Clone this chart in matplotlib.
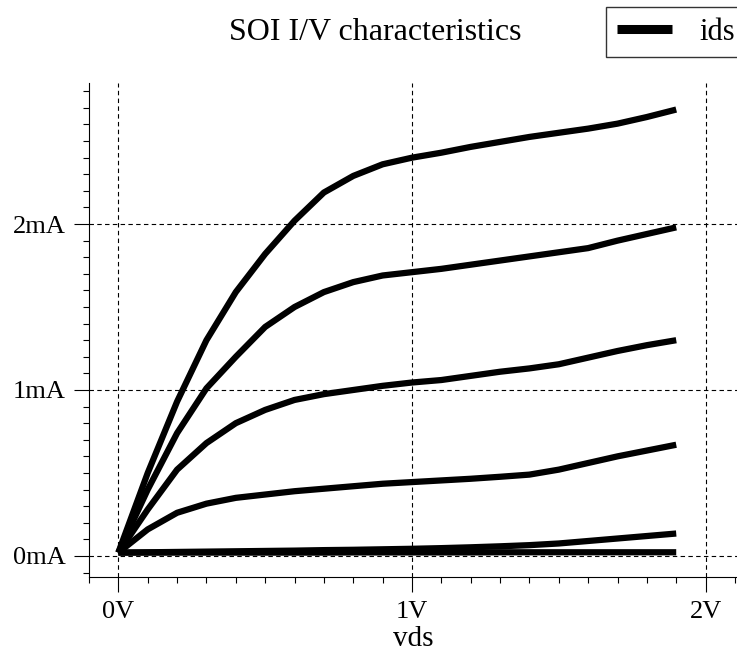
import matplotlib
matplotlib.use('Agg')
import matplotlib.pyplot as plt
from matplotlib.ticker import MultipleLocator

plt.rcParams['font.family'] = ['Liberation Serif', 'DejaVu Serif']

# drain voltage (V)
vds = [0.0, 0.1, 0.2, 0.3, 0.4, 0.5, 0.6, 0.7, 0.8, 0.9,
       1.0, 1.1, 1.2, 1.3, 1.4, 1.5, 1.6, 1.7, 1.8, 1.9]

# drain current (mA), one list per gate voltage
ids1 = [0.02, 0.50, 0.93, 1.30, 1.59, 1.82, 2.02, 2.19, 2.29, 2.36,
        2.40, 2.43, 2.465, 2.495, 2.525, 2.55, 2.575, 2.605, 2.645, 2.69]
ids2 = [0.02, 0.40, 0.74, 1.01, 1.20, 1.38, 1.50, 1.59, 1.65, 1.69,
        1.71, 1.73, 1.755, 1.78, 1.805, 1.83, 1.855, 1.90, 1.94, 1.98]
ids3 = [0.02, 0.28, 0.52, 0.68, 0.80, 0.88, 0.94, 0.975, 1.00, 1.025,
        1.045, 1.06, 1.085, 1.11, 1.13, 1.155, 1.195, 1.235, 1.27, 1.30]
ids4 = [0.02, 0.16, 0.26, 0.315, 0.35, 0.37, 0.39, 0.405, 0.42, 0.435,
        0.445, 0.455, 0.465, 0.477, 0.49, 0.52, 0.56, 0.60, 0.635, 0.67]
ids5 = [0.02, 0.022, 0.024, 0.026, 0.028, 0.03, 0.032, 0.035, 0.037, 0.04,
        0.043, 0.047, 0.052, 0.058, 0.065, 0.075, 0.09, 0.105, 0.12, 0.135]
ids6 = [0.02, 0.02, 0.02, 0.02, 0.02, 0.02, 0.02, 0.02, 0.021, 0.021,
        0.021, 0.021, 0.021, 0.022, 0.022, 0.022, 0.022, 0.022, 0.022, 0.022]
curves = [ids1, ids2, ids3, ids4, ids5, ids6]

x_ticks = [0, 1, 2]
x_labels = ['0V', '1V', '2V']
y_ticks = [0, 1, 2]
y_labels = ['0mA', '1mA', '2mA']

fig = plt.figure(figsize=(7.37, 6.55), dpi=100)
ax = fig.add_axes([89 / 737, 78 / 655, 648 / 737, 494 / 655])

for i, c in enumerate(curves):
    ax.plot(vds, c, color='black', lw=4.5, solid_capstyle='butt',
            solid_joinstyle='round', label='ids' if i == 0 else None)

ax.set_xlim(-0.1, 2.107)
ax.set_ylim(-0.127, 2.85)

ax.set_xticks(x_ticks)
ax.set_xticklabels(x_labels)
ax.set_yticks(y_ticks)
ax.set_yticklabels(y_labels)
ax.xaxis.set_minor_locator(MultipleLocator(0.1))
ax.yaxis.set_minor_locator(MultipleLocator(0.1))
ax.tick_params(which='major', direction='out', length=11, width=0.8,
               labelsize=19, pad=6)
ax.tick_params(which='minor', direction='out', length=4.5, width=0.8)

ax.grid(True, which='major', color='black', lw=0.8, linestyle=(0, (4, 3)))

for s in ['top', 'right']:
    ax.spines[s].set_visible(False)
for s in ['left', 'bottom']:
    ax.spines[s].set_linewidth(0.8)

ax.set_xlabel('vds', fontsize=21, labelpad=2.5)

fig.text(375 / 737, 1 - 33 / 655, 'SOI I/V characteristics',
         fontsize=23, ha='center', va='center')

leg = ax.legend(loc='upper left', bbox_to_anchor=(606 / 737, 1 - 7 / 655),
                bbox_transform=fig.transFigure, fontsize=22, frameon=True,
                fancybox=False, handlelength=1.8, handletextpad=0.9,
                borderpad=0.35, borderaxespad=0)
leg.get_frame().set_edgecolor('black')
leg.get_frame().set_linewidth(1.0)
for line in leg.get_lines():
    line.set_linewidth(6.5)

plt.savefig('out.png', dpi=100)
